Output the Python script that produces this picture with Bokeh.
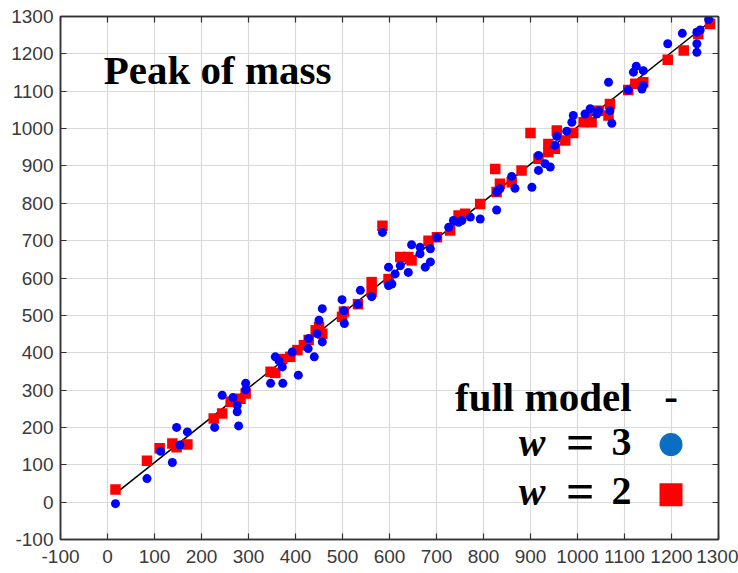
from bokeh.plotting import figure
from bokeh.models import Range1d, FixedTicker, LinearAxis, Label
from bokeh.embed import file_html
from bokeh.resources import INLINE

# ---- data ----
w3_x = [17, 84, 113, 138, 147, 154, 170, 228, 244, 267, 276, 276, 279, 294, 294,
        347, 357, 365, 372, 373, 393, 406, 428, 427, 440, 450, 446, 457, 457,
        499, 503, 504, 533, 538, 562, 598, 585, 605, 598, 612, 623, 640, 647,
        665, 665, 687, 676, 687, 701, 726, 736, 747, 754, 772, 793, 828, 828,
        835, 860, 867, 903, 917, 917, 931, 942, 952, 956, 977, 991, 988, 1016,
        1027, 1045, 1041, 1066, 1069, 1073, 1108, 1119, 1125, 1140, 1140, 1137,
        1192, 1223, 1254, 1261, 1254, 1254, 1279]
w3_y = [-4, 63, 136, 106, 200, 153, 188, 200, 286, 280, 259, 242, 204, 318, 301,
        318, 389, 378, 362, 318, 402, 340, 438, 411, 389, 487, 451, 518, 429,
        542, 512, 478, 530, 567, 550, 580, 722, 584, 629, 611, 633, 615, 689,
        682, 665, 678, 629, 643, 709, 736, 754, 749, 754, 763, 758, 782, 830,
        839, 872, 840, 843, 928, 888, 906, 897, 955, 979, 993, 1035, 1017, 1039,
        1053, 1048, 1039, 1124, 1048, 1014, 1103, 1151, 1167, 1155, 1115, 1106,
        1227, 1255, 1258, 1264, 1227, 1204, 1292]

w2_x = [17, 84, 111, 138, 147, 170, 226, 244, 262, 283, 294, 347, 357, 372, 389,
        404, 418, 428, 443, 450, 457, 499, 503, 533, 562, 562, 585, 598, 623,
        640, 647, 683, 701, 729, 747, 761, 793, 825, 828, 835, 860, 881, 900,
        917, 938, 938, 956, 952, 974, 991, 1013, 1030, 1020, 1045, 1066, 1069,
        1108, 1123, 1140, 1192, 1226, 1257, 1282]
w2_y = [34, 111, 144, 157, 147, 154, 224, 237, 269, 277, 291, 349, 346, 383, 389,
        407, 420, 434, 460, 469, 451, 496, 510, 530, 563, 589, 740, 597, 656,
        656, 647, 700, 709, 727, 767, 772, 798, 892, 830, 852, 856, 888, 988,
        919, 959, 937, 995, 946, 968, 988, 1017, 1017, 1030, 1048, 1035, 1066,
        1103, 1120, 1124, 1184, 1209, 1253, 1280]

fit_x = [18, 1290]
fit_y = [24, 1294]

tick_vals = [-100, 0, 100, 200, 300, 400, 500, 600, 700, 800, 900, 1000, 1100, 1200, 1300]
tick_labels = [str(v) for v in tick_vals]

title_text = "Peak of mass"
legend_full = "full model"
legend_dash = "-"
legend_var = "w"
legend_eq = "="
legend_w3 = "3"
legend_w2 = "2"

# ---- figure ----
p = figure(width=738, height=573, output_backend="svg", toolbar_location=None,
           x_range=Range1d(-100, 1300), y_range=Range1d(-100, 1300),
           min_border_left=60, min_border_right=20, min_border_top=16,
           min_border_bottom=34, x_axis_location=None, y_axis_location=None)
p.background_fill_color = "white"
p.border_fill_color = "white"
p.outline_line_color = "#333333"
p.outline_line_width = 1.5

ticker = FixedTicker(ticks=tick_vals)
overrides = {v: s for v, s in zip(tick_vals, tick_labels)}

def make_axis(show_labels):
    ax = LinearAxis(ticker=ticker)
    ax.major_label_overrides = overrides
    ax.major_tick_in = 6
    ax.major_tick_out = 0
    ax.minor_tick_line_color = None
    ax.axis_line_color = "#333333"
    ax.axis_line_width = 1.5
    ax.major_tick_line_color = "#333333"
    ax.major_tick_line_width = 1.2
    if show_labels:
        ax.major_label_text_font = "Liberation Sans"
        ax.major_label_text_font_size = "19px"
        ax.major_label_text_color = "#3a3a3a"
    else:
        ax.major_label_text_font_size = "1px"
        ax.major_label_text_color = None
        ax.major_label_standoff = 0
    return ax

left = make_axis(True)
left.major_label_standoff = 7
bottom = make_axis(True)
bottom.major_label_standoff = 10
p.add_layout(left, "left")
p.add_layout(bottom, "below")
p.add_layout(make_axis(False), "above")
p.add_layout(make_axis(False), "right")

p.xgrid.ticker = ticker
p.ygrid.ticker = ticker
p.grid.grid_line_color = "#d9d9d9"
p.grid.grid_line_width = 1.2

# ---- marks ----
p.line(fit_x, fit_y, line_color="black", line_width=1.5)
p.scatter(w2_x, w2_y, marker="square", size=10.5, fill_color="#ff0000", line_color="#ff0000", line_width=0)
p.scatter(w3_x, w3_y, marker="circle", size=9, fill_color="#0000ff", line_color="#0000ff", line_width=0)

SERIF = "Liberation Serif"

def lab(x, y, text, size, style="bold", align="left"):
    p.add_layout(Label(x=x, y=y, text=text, text_font=SERIF, text_font_style=style,
                       text_font_size=size, text_color="black",
                       text_baseline="alphabetic", text_align=align))

# ---- title inside ----
lab(-8, 1158, title_text, "41px")

# ---- custom legend (layout constants) ----
LEG_TEXT_X = 1115
LEG_SYM_X = 1199
ROW_FULL, ROW_W3, ROW_W2 = 282, 160, 29
lab(LEG_TEXT_X, ROW_FULL, legend_full, "41px", align="right")
lab(LEG_SYM_X, ROW_FULL, legend_dash, "41px", align="center")
for yb, txt in ((ROW_W3, legend_w3), (ROW_W2, legend_w2)):
    lab(LEG_TEXT_X, yb, txt, "40px", align="right")
    lab(1006, yb, legend_eq, "50px", align="center")
    lab(932, yb, legend_var, "40px", style="bold italic", align="right")
p.scatter([LEG_SYM_X], [154], marker="circle", size=23, fill_color="#0a6fc2", line_width=0)
p.scatter([LEG_SYM_X], [20], marker="square", size=23, fill_color="#ff0000", line_width=0)

open("out.html", "w").write(file_html(p, INLINE))
